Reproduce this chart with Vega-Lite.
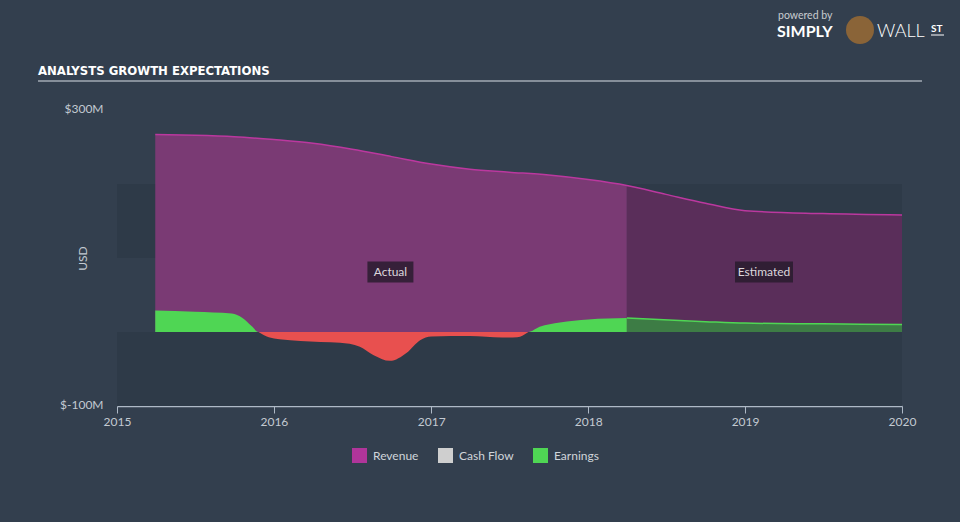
{
  "$schema": "https://vega.github.io/schema/vega-lite/v6.json",
  "width": 785,
  "height": 296,
  "autosize": {"type": "none"},
  "padding": {"left": 117, "top": 110, "right": 58, "bottom": 116},
  "background": "#333f4e",
  "config": {
    "view": {"stroke": null},
    "axis": {"labelFont": "Lato", "titleFont": "Lato", "labelColor": "#c3cad2", "titleColor": "#c3cad2", "labelFontSize": 12, "titleFontSize": 12, "titleFontWeight": "normal", "grid": false},
    "legend": {"orient": "none", "legendX": 235, "legendY": 338, "direction": "horizontal", "symbolType": "square", "symbolSize": 225, "symbolStrokeWidth": 0, "symbolOpacity": 1, "labelFont": "Lato", "labelFontSize": 12, "labelColor": "#d0d5da", "columnPadding": 19, "labelOffset": 6}
  },
  "datasets": {
    "series": [
      {"date": "2015-03-31", "value": 267, "metric": "Revenue", "phase": "Actual", "seg": "r"},
      {"date": "2015-07-01", "value": 266, "metric": "Revenue", "phase": "Actual", "seg": "r"},
      {"date": "2015-10-01", "value": 264, "metric": "Revenue", "phase": "Actual", "seg": "r"},
      {"date": "2016-01-01", "value": 260, "metric": "Revenue", "phase": "Actual", "seg": "r"},
      {"date": "2016-04-01", "value": 255, "metric": "Revenue", "phase": "Actual", "seg": "r"},
      {"date": "2016-07-01", "value": 247, "metric": "Revenue", "phase": "Actual", "seg": "r"},
      {"date": "2016-10-01", "value": 237, "metric": "Revenue", "phase": "Actual", "seg": "r"},
      {"date": "2017-01-01", "value": 227, "metric": "Revenue", "phase": "Actual", "seg": "r"},
      {"date": "2017-04-01", "value": 220, "metric": "Revenue", "phase": "Actual", "seg": "r"},
      {"date": "2017-07-01", "value": 216, "metric": "Revenue", "phase": "Actual", "seg": "r"},
      {"date": "2017-10-01", "value": 212, "metric": "Revenue", "phase": "Actual", "seg": "r"},
      {"date": "2018-01-01", "value": 206, "metric": "Revenue", "phase": "Actual", "seg": "r"},
      {"date": "2018-04-01", "value": 198, "metric": "Revenue", "phase": "Actual", "seg": "r"},
      {"date": "2018-04-01", "value": 198, "metric": "Revenue", "phase": "Estimated", "seg": "r"},
      {"date": "2018-07-01", "value": 186, "metric": "Revenue", "phase": "Estimated", "seg": "r"},
      {"date": "2018-10-01", "value": 174, "metric": "Revenue", "phase": "Estimated", "seg": "r"},
      {"date": "2019-01-01", "value": 164, "metric": "Revenue", "phase": "Estimated", "seg": "r"},
      {"date": "2019-07-01", "value": 160, "metric": "Revenue", "phase": "Estimated", "seg": "r"},
      {"date": "2020-01-01", "value": 158, "metric": "Revenue", "phase": "Estimated", "seg": "r"},
      {"date": "2015-03-31", "value": 29, "metric": "Earnings", "phase": "Actual", "seg": "pos1"},
      {"date": "2015-07-01", "value": 27.5, "metric": "Earnings", "phase": "Actual", "seg": "pos1"},
      {"date": "2015-09-25", "value": 25, "metric": "Earnings", "phase": "Actual", "seg": "pos1"},
      {"date": "2015-10-20", "value": 19, "metric": "Earnings", "phase": "Actual", "seg": "pos1"},
      {"date": "2015-11-10", "value": 8, "metric": "Earnings", "phase": "Actual", "seg": "pos1"},
      {"date": "2015-11-26", "value": 0, "metric": "Earnings", "phase": "Actual", "seg": "pos1"},
      {"date": "2015-11-26", "value": 0, "metric": "Earnings", "phase": "Actual", "seg": "neg"},
      {"date": "2015-12-20", "value": -7, "metric": "Earnings", "phase": "Actual", "seg": "neg"},
      {"date": "2016-02-08", "value": -11, "metric": "Earnings", "phase": "Actual", "seg": "neg"},
      {"date": "2016-05-12", "value": -14, "metric": "Earnings", "phase": "Actual", "seg": "neg"},
      {"date": "2016-06-25", "value": -16, "metric": "Earnings", "phase": "Actual", "seg": "neg"},
      {"date": "2016-07-19", "value": -20, "metric": "Earnings", "phase": "Actual", "seg": "neg"},
      {"date": "2016-08-19", "value": -31, "metric": "Earnings", "phase": "Actual", "seg": "neg"},
      {"date": "2016-09-27", "value": -39, "metric": "Earnings", "phase": "Actual", "seg": "neg"},
      {"date": "2016-11-05", "value": -28, "metric": "Earnings", "phase": "Actual", "seg": "neg"},
      {"date": "2016-12-06", "value": -11, "metric": "Earnings", "phase": "Actual", "seg": "neg"},
      {"date": "2017-01-01", "value": -6, "metric": "Earnings", "phase": "Actual", "seg": "neg"},
      {"date": "2017-04-01", "value": -5.5, "metric": "Earnings", "phase": "Actual", "seg": "neg"},
      {"date": "2017-06-15", "value": -7.5, "metric": "Earnings", "phase": "Actual", "seg": "neg"},
      {"date": "2017-07-20", "value": -7, "metric": "Earnings", "phase": "Actual", "seg": "neg"},
      {"date": "2017-08-15", "value": 0, "metric": "Earnings", "phase": "Actual", "seg": "neg"},
      {"date": "2017-08-15", "value": 0, "metric": "Earnings", "phase": "Actual", "seg": "pos2"},
      {"date": "2017-09-10", "value": 7, "metric": "Earnings", "phase": "Actual", "seg": "pos2"},
      {"date": "2017-10-27", "value": 13, "metric": "Earnings", "phase": "Actual", "seg": "pos2"},
      {"date": "2018-01-01", "value": 17, "metric": "Earnings", "phase": "Actual", "seg": "pos2"},
      {"date": "2018-04-01", "value": 19, "metric": "Earnings", "phase": "Actual", "seg": "pos2"},
      {"date": "2018-04-01", "value": 19, "metric": "Earnings", "phase": "Estimated", "seg": "est"},
      {"date": "2018-10-01", "value": 14, "metric": "Earnings", "phase": "Estimated", "seg": "est"},
      {"date": "2019-01-01", "value": 12, "metric": "Earnings", "phase": "Estimated", "seg": "est"},
      {"date": "2019-07-01", "value": 11, "metric": "Earnings", "phase": "Estimated", "seg": "est"},
      {"date": "2020-01-01", "value": 10, "metric": "Earnings", "phase": "Estimated", "seg": "est"}
    ],
    "labels": [
      {"date": "2016-09-28", "value": 81, "label": "Actual"},
      {"date": "2019-02-14", "value": 81, "label": "Estimated"}
    ]
  },
  "data": {"name": "series"},
  "encoding": {
    "x": {"field": "date", "type": "temporal", "title": null,
      "scale": {"domain": ["2015-01-01", "2020-01-01"]},
      "axis": {"format": "%Y", "tickCount": {"interval": "year", "step": 1}, "domainColor": "#aeb9c6", "tickColor": "#aeb9c6", "tickSize": 7, "domainWidth": 1.5, "labelPadding": 3, "labelFlush": false}},
    "y": {"field": "value", "type": "quantitative", "title": "USD",
      "scale": {"domain": [-100, 300], "nice": false},
      "axis": {"values": [-100, 300], "labelExpr": "'$' + datum.value + 'M'", "domain": false, "ticks": false, "labelPadding": 14, "labelOffset": -2, "titleX": -35, "titleY": 148, "titleAngle": 270, "titleAlign": "center", "titleBaseline": "middle"}}
  },
  "layer": [
    {
      "data": {"values": [{"top": 200, "bottom": 100}, {"top": 0, "bottom": -100}]},
      "mark": {"type": "rect", "fill": "#2e3a48"},
      "encoding": {"x": null, "y": {"field": "top", "type": "quantitative"}, "y2": {"field": "bottom"}}
    },
    {
      "transform": [{"filter": "datum.metric == 'Revenue' && datum.phase == 'Actual'"}],
      "mark": {"type": "area", "interpolate": "monotone", "fill": "#7a3a74"}
    },
    {
      "transform": [{"filter": "datum.metric == 'Revenue' && datum.phase == 'Estimated'"}],
      "mark": {"type": "area", "interpolate": "monotone", "fill": "#5a2e5a"}
    },
    {
      "transform": [{"filter": "datum.metric == 'Revenue' && !(datum.phase == 'Estimated' && datum.date == '2018-04-01')"}],
      "mark": {"type": "line", "interpolate": "monotone", "stroke": "#bb389f", "strokeWidth": 1.5}
    },
    {
      "transform": [{"filter": "datum.seg == 'pos1' || datum.seg == 'pos2'"}],
      "mark": {"type": "area", "interpolate": "monotone", "opacity": 1},
      "encoding": {
        "color": {"field": "metric", "type": "nominal", "title": null,
          "scale": {"domain": ["Revenue", "Cash Flow", "Earnings"], "range": ["#b0359a", "#cfcfcf", "#4fd654"]}},
        "detail": {"field": "seg"}
      }
    },
    {
      "transform": [{"filter": "datum.seg == 'neg'"}],
      "mark": {"type": "area", "interpolate": "monotone", "fill": "#e8504f"}
    },
    {
      "transform": [{"filter": "datum.seg == 'est'"}],
      "mark": {"type": "area", "interpolate": "monotone", "fill": "#3d7c45"}
    },
    {
      "transform": [{"filter": "datum.seg == 'est'"}],
      "mark": {"type": "line", "interpolate": "monotone", "stroke": "#4fd654", "strokeWidth": 1.5}
    },
    {
      "data": {"values": [{}]},
      "mark": {"type": "rule", "stroke": "#ffffff", "strokeWidth": 1.5},
      "encoding": {"x": null, "y": {"datum": 0}}
    },
    {
      "data": {"name": "labels"},
      "transform": [{"filter": "datum.label == 'Actual'"}],
      "mark": {"type": "point", "shape": "M-1,-0.4565H1V0.4565H-1Z", "size": 2116, "filled": true, "fill": "#251a2a", "opacity": 0.8, "strokeWidth": 0}
    },
    {
      "data": {"name": "labels"},
      "transform": [{"filter": "datum.label == 'Estimated'"}],
      "mark": {"type": "point", "shape": "M-1,-0.362H1V0.362H-1Z", "size": 3364, "filled": true, "fill": "#251a2a", "opacity": 0.8, "strokeWidth": 0}
    },
    {
      "data": {"name": "labels"},
      "mark": {"type": "text", "font": "Lato", "fontSize": 12, "color": "#dcd6dc"},
      "encoding": {"text": {"field": "label"}}
    },
    {
      "data": {"values": [{}]},
      "mark": {"type": "text", "text": "ANALYSTS GROWTH EXPECTATIONS", "font": "DejaVu Sans Condensed, Roboto Condensed, Liberation Sans Narrow, Roboto, sans-serif", "fontWeight": "bold", "fontSize": 13, "color": "#ffffff", "align": "left", "baseline": "alphabetic"},
      "encoding": {"x": {"value": -79}, "y": {"value": -35}}
    },
    {
      "data": {"values": [{}]},
      "mark": {"type": "rule", "stroke": "#a3abb5", "strokeWidth": 1.5},
      "encoding": {"x": {"value": -79}, "x2": {"value": 805}, "y": {"value": -29}}
    },
    {
      "data": {"values": [{}]},
      "mark": {"type": "text", "text": "powered by", "font": "Lato", "fontSize": 10.5, "color": "#c8ccd0", "align": "left", "baseline": "middle"},
      "encoding": {"x": {"value": 661}, "y": {"value": -94}}
    },
    {
      "data": {"values": [{}]},
      "mark": {"type": "text", "text": "SIMPLY", "font": "Lato", "fontWeight": "bold", "fontSize": 16, "color": "#ffffff", "align": "left", "baseline": "alphabetic"},
      "encoding": {"x": {"value": 660}, "y": {"value": -73}}
    },
    {
      "data": {"values": [{}]},
      "mark": {"type": "point", "shape": "circle", "size": 784, "filled": true, "fill": "#8a6438", "opacity": 1},
      "encoding": {"x": {"value": 743}, "y": {"value": -80}}
    },
    {
      "data": {"values": [{}]},
      "mark": {"type": "text", "text": "WALL", "font": "Lato", "fontWeight": 300, "fontSize": 18, "color": "#ffffff", "align": "left", "baseline": "alphabetic"},
      "encoding": {"x": {"value": 760}, "y": {"value": -73}}
    },
    {
      "data": {"values": [{}]},
      "mark": {"type": "text", "text": "ST", "font": "Lato", "fontWeight": "bold", "fontSize": 10, "color": "#ffffff", "align": "left", "baseline": "alphabetic"},
      "encoding": {"x": {"value": 814}, "y": {"value": -78}}
    },
    {
      "data": {"values": [{}]},
      "mark": {"type": "rule", "stroke": "#ffffff", "strokeWidth": 1},
      "encoding": {"x": {"value": 814}, "x2": {"value": 827}, "y": {"value": -75}}
    }
  ]
}
